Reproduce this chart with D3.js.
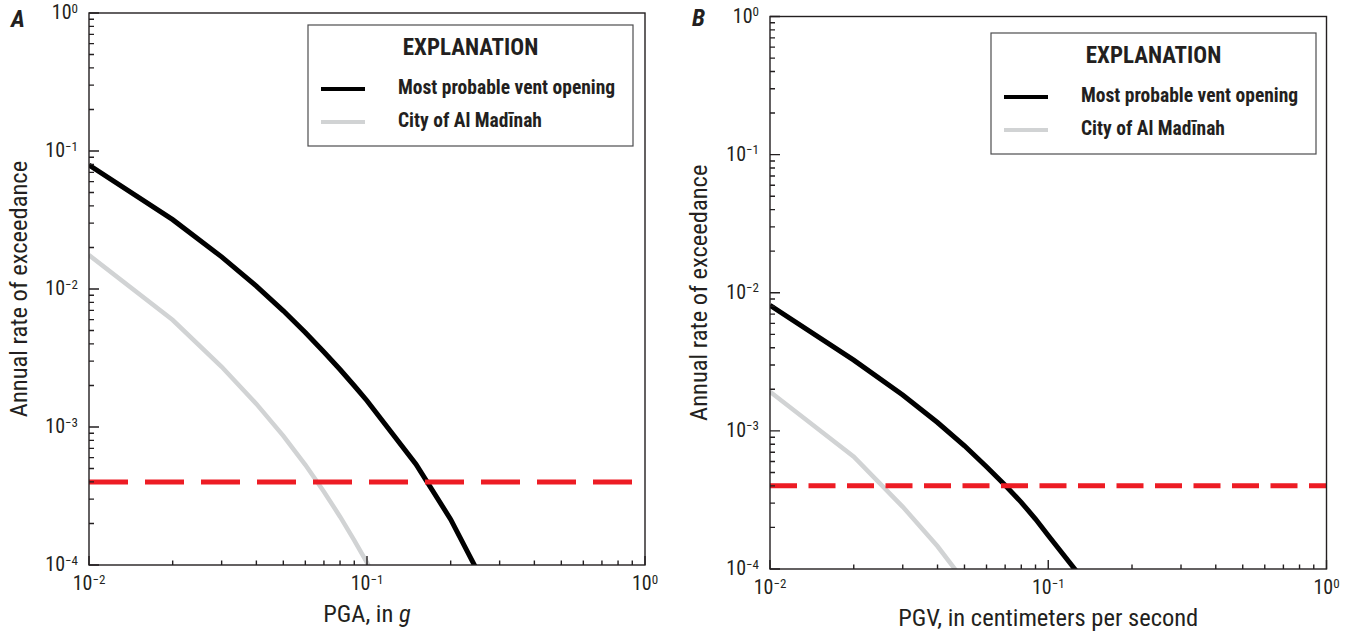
<!DOCTYPE html>
<html>
<head>
<meta charset="utf-8">
<script src="https://cdn.jsdelivr.net/npm/d3@7"></script>
<style>
  body { margin: 0; background: #fff; }
  text { font-family: "Roboto Condensed", Roboto, sans-serif; font-stretch: condensed; fill: #231f20; }
</style>
</head>
<body>
<svg id="chart" width="1356" height="634"></svg>
<script>

// ground motion levels (x) and annual rates of exceedance (y)
var pgaLevels = [0.01, 0.02, 0.03, 0.04, 0.05, 0.06, 0.07, 0.08, 0.09, 0.1, 0.15, 0.2, 0.25];
var ventRateA = [0.0792, 0.0318, 0.0171, 0.0105, 0.00695, 0.00484, 0.0035, 0.00261, 0.00199, 0.00155, 0.000538, 0.000214, 0.00009];
var cityRateA = [0.0176, 0.00596, 0.00273, 0.00147, 0.000862, 0.000532, 0.00034, 0.000224, 0.000151, 0.000104, 0.000022, null, null];

var pgvLevels = [0.01, 0.02, 0.03, 0.04, 0.05, 0.06, 0.07, 0.08, 0.09, 0.1, 0.15];
var ventRateB = [0.00812, 0.00325, 0.00182, 0.00115, 0.00078, 0.00055, 0.000404, 0.000304, 0.00023, 0.000175, 0.000062];
var cityRateB = [0.00192, 0.00065, 0.000282, 0.000146, 0.000081, null, null, null, null, null, null];

var thresholdRate = 4e-4;
var xDomain = [0.01, 1];
var yDomain = [1e-4, 1];
var seriesNames = ["Most probable vent opening", "City of Al Mad\u012Bnah"];
var legendTitle = "EXPLANATION";
var yTitle = "Annual rate of exceedance";

var svg = d3.select("#chart");

function supLabel(sel, v) {
  var e = Math.round(Math.log10(v));
  sel.append("tspan").text("10");
  sel.append("tspan").attr("dy", "-0.5em").style("font-size", "13px")
    .text(e < 0 ? "\u2212" + (-e) : String(e));
}

function isMajor(v) {
  var l = Math.log10(v);
  return Math.abs(l - Math.round(l)) < 1e-6;
}

function drawPanel(cfg) {
  var w = cfg.right - cfg.left, h = cfg.bottom - cfg.top;
  var g = svg.append("g").attr("transform", "translate(" + cfg.left + "," + cfg.top + ")");

  var x = d3.scaleLog().domain(xDomain).range([0, w]);
  var y = d3.scaleLog().domain(yDomain).range([h, 0]);

  g.append("clipPath").attr("id", cfg.id + "clip")
    .append("rect").attr("width", w).attr("height", h);

  var plot = g.append("g").attr("clip-path", "url(#" + cfg.id + "clip)");

  var line = d3.line()
    .defined(function(d) { return d[1] != null; })
    .x(function(d) { return x(d[0]); })
    .y(function(d) { return y(d[1]); });

  plot.append("path")
    .datum(cfg.levels.map(function(v, i) { return [v, cfg.city[i]]; }))
    .attr("d", line).attr("fill", "none")
    .attr("stroke", "#d1d3d4").attr("stroke-width", 4.5);

  plot.append("path")
    .datum(cfg.levels.map(function(v, i) { return [v, cfg.vent[i]]; }))
    .attr("d", line).attr("fill", "none")
    .attr("stroke", "#000").attr("stroke-width", 5);

  plot.append("path")
    .datum([[xDomain[0], thresholdRate], [xDomain[1], thresholdRate]])
    .attr("d", line).attr("fill", "none")
    .attr("stroke", "#ed1c24").attr("stroke-width", 5)
    .attr("stroke-dasharray", cfg.dash);

  // ticks point inwards, decades long and the rest short
  var tickPath = y.ticks().map(function(d) {
    return "M0," + y(d) + "h" + (isMajor(d) ? 10 : 5);
  }).concat(x.ticks().map(function(d) {
    return "M" + x(d) + "," + h + "v" + (isMajor(d) ? -9 : -4.5);
  })).join("");
  g.append("path").attr("d", tickPath).attr("fill", "none")
    .attr("stroke", "#231f20").attr("stroke-width", 1.4);

  g.append("g").selectAll("text").data(y.ticks().filter(isMajor)).join("text")
    .attr("x", -11).attr("y", function(d) { return y(d); }).attr("dy", "0.3em")
    .attr("text-anchor", "end").style("font-size", "20px")
    .each(function(d) { supLabel(d3.select(this), d); });
  g.append("g").selectAll("text").data(x.ticks().filter(isMajor)).join("text")
    .attr("x", function(d) { return x(d); }).attr("y", h + 25)
    .attr("text-anchor", "middle").style("font-size", "20px")
    .each(function(d) { supLabel(d3.select(this), d); });

  // frame
  g.append("rect").attr("width", w).attr("height", h)
    .attr("fill", "none").attr("stroke", "#231f20").attr("stroke-width", 1.4);

  // legend
  var lg = g.append("g").attr("transform", "translate(" + (cfg.legendX - cfg.left) + "," + (cfg.legendY - cfg.top) + ")");
  lg.append("rect").attr("width", 325).attr("height", 121)
    .attr("fill", "#fff").attr("stroke", "#4d4d4f").attr("stroke-width", 1.2);
  lg.append("text").attr("x", 162.5).attr("y", 30).attr("text-anchor", "middle")
    .style("font-size", "23px").style("font-weight", "bold").attr("fill", "#000").text(legendTitle);
  var items = [{ name: seriesNames[0], color: "#000" }, { name: seriesNames[1], color: "#d1d3d4" }];
  items.forEach(function(it, i) {
    var yy = 64 + i * 33;
    lg.append("line").attr("x1", 13).attr("x2", 57).attr("y1", yy).attr("y2", yy)
      .attr("stroke", it.color).attr("stroke-width", 4);
    lg.append("text").attr("x", 90).attr("y", yy + 4.5)
      .style("font-size", "19.5px").style("font-weight", "bold").attr("fill", "#000").text(it.name);
  });

  // titles
  var xt = g.append("text").attr("x", w / 2).attr("y", h + 57).attr("text-anchor", "middle")
    .style("font-size", "24.5px");
  cfg.xTitle(xt);

  g.append("text")
    .attr("transform", "translate(" + (cfg.yTitleX - cfg.left) + "," + (h / 2) + ") rotate(-90)")
    .attr("text-anchor", "middle").style("font-size", "24.5px").text(yTitle);

  g.append("text").attr("x", cfg.letterX - cfg.left).attr("y", cfg.letterY - cfg.top)
    .style("font-size", "24px").style("font-weight", "bold").style("font-style", "italic")
    .attr("fill", "#000").text(cfg.letter);
}

drawPanel({
  id: "a", left: 89, top: 13, right: 645, bottom: 565,
  levels: pgaLevels, vent: ventRateA, city: cityRateA, dash: "39 17",
  legendX: 308, legendY: 25, yTitleX: 27, letter: "A", letterX: 11, letterY: 27,
  xTitle: function(t) {
    t.append("tspan").text("PGA, in ");
    t.append("tspan").style("font-style", "italic").text("g");
  }
});

drawPanel({
  id: "b", left: 770, top: 16.5, right: 1326.5, bottom: 569,
  levels: pgvLevels, vent: ventRateB, city: cityRateB, dash: "27 11.5",
  legendX: 991, legendY: 33, yTitleX: 707, letter: "B", letterX: 692, letterY: 26,
  xTitle: function(t) { t.text("PGV, in centimeters per second"); }
});

</script>
</body>
</html>
